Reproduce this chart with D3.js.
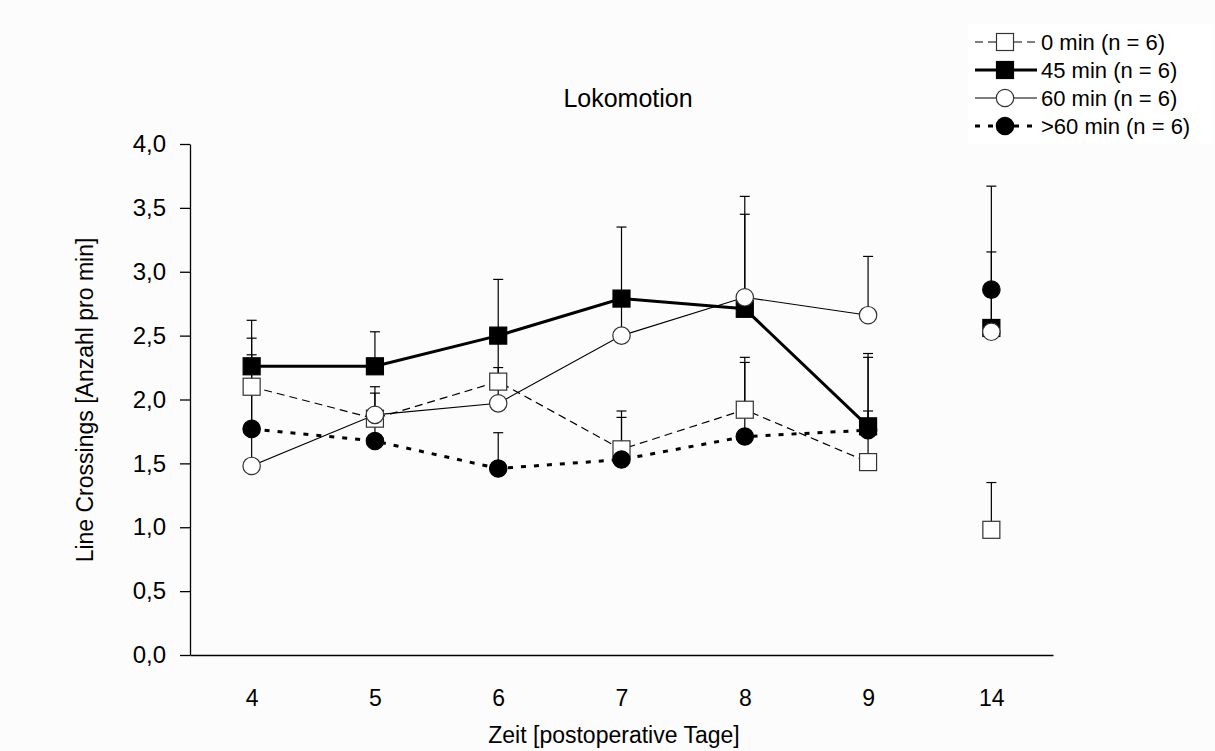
<!DOCTYPE html>
<html>
<head>
<meta charset="utf-8">
<script src="https://cdn.jsdelivr.net/npm/d3@7"></script>
<style>
  body { margin: 0; background: #fcfcfc; }
  svg { display: block; }
  text { font-family: "Liberation Sans", Arial, sans-serif; fill: #000; }
</style>
</head>
<body>
<svg id="chart" width="1215" height="751"></svg>
<script>
// Postoperative days on the x axis; lines only join the consecutive days 4–9
const days = ["4", "5", "6", "7", "8", "9", "14"];
const joinedDays = ["4", "5", "6", "7", "8", "9"];
const yTicks = [0, 0.5, 1, 1.5, 2, 2.5, 3, 3.5, 4];

const seriesNames = ["0 min (n = 6)", "45 min (n = 6)", "60 min (n = 6)", ">60 min (n = 6)"];

// Means and upper error-bar ends (line crossings per minute)
const mean0     = [2.10, 1.85, 2.14, 1.61, 1.92, 1.51, 0.98];
const upper0    = [2.48, 2.05, 2.46, 1.91, 2.33, 1.91, 1.35];
const mean45    = [2.26, 2.26, 2.50, 2.79, 2.71, 1.79, 2.56];
const upper45   = [2.62, 2.53, 2.94, 3.35, 3.45, 2.36, 3.67];
const mean60    = [1.48, 1.88, 1.97, 2.50, 2.80, 2.66, 2.53];
const upper60   = [2.08, 2.10, 2.25, 2.76, 3.59, 3.12, 2.82];
const meanGt60  = [1.77, 1.675, 1.46, 1.53, 1.71, 1.76, 2.86];
const upperGt60 = [2.35, 1.80, 1.74, 1.86, 2.29, 2.33, 3.155];

const means  = [mean0, mean45, mean60, meanGt60];
const uppers = [upper0, upper45, upper60, upperGt60];

// Drawing style for each group
const styles = [
  { shape: "square", fill: "#fff", width: 1.2, dash: "8,5" },
  { shape: "square", fill: "#000", width: 3,   dash: null },
  { shape: "circle", fill: "#fff", width: 1.1, dash: null },
  { shape: "circle", fill: "#000", width: 3,   dash: "5,8" }
];

const svg = d3.select("#chart");

const x = d3.scalePoint().domain(days).range([190, 1053]).padding(0.5);
const y = d3.scaleLinear().domain([0, 4]).range([655, 144]);

const fmt = d3.formatLocale({ decimal: ",", thousands: ".", grouping: [3], currency: ["", "€"] }).format(".1f");

// Y axis
const yAxis = svg.append("g")
  .attr("transform", "translate(190,0)")
  .call(d3.axisLeft(y).tickValues(yTicks).tickFormat(fmt).tickSize(10).tickSizeOuter(0).tickPadding(14));
yAxis.selectAll("text").style("font-size", "24px");
yAxis.selectAll("path,line").attr("stroke", "#000").attr("stroke-width", 1.3);

// X axis (no tick marks)
const xAxis = svg.append("g")
  .attr("transform", "translate(0,655)")
  .call(d3.axisBottom(x).tickSize(0).tickSizeOuter(0).tickPadding(35));
xAxis.selectAll("text").style("font-size", "23px");
xAxis.select(".domain").attr("stroke", "#000").attr("stroke-width", 1.3);

// Titles
svg.append("text").attr("x", 628).attr("y", 107).attr("text-anchor", "middle")
  .style("font-size", "25px").text("Lokomotion");
svg.append("text").attr("x", 614).attr("y", 743).attr("text-anchor", "middle")
  .style("font-size", "23px").text("Zeit [postoperative Tage]");
svg.append("text").attr("transform", "translate(93,400) rotate(-90)").attr("text-anchor", "middle")
  .style("font-size", "23px").text("Line Crossings [Anzahl pro min]");

const rows = seriesNames.map((name, s) => ({
  s,
  pts: days.map((d, i) => ({ day: d, m: means[s][i], u: uppers[s][i] }))
}));

// Connecting lines
const line = d3.line().x(p => x(p.day)).y(p => y(p.m));
svg.append("g").selectAll("path").data(rows).join("path")
  .attr("d", r => line(r.pts.filter(p => joinedDays.includes(p.day))))
  .attr("fill", "none")
  .attr("stroke", "#000")
  .attr("stroke-width", r => styles[r.s].width)
  .attr("stroke-dasharray", r => styles[r.s].dash);

// Upward error bars with caps
const bars = svg.append("g").attr("stroke", "#000").attr("stroke-width", 1.2);
rows.forEach(r => {
  const g = bars.append("g");
  g.selectAll("line.v").data(r.pts).join("line").attr("class", "v")
    .attr("x1", p => x(p.day)).attr("x2", p => x(p.day))
    .attr("y1", p => y(p.m)).attr("y2", p => y(p.u));
  g.selectAll("line.c").data(r.pts).join("line").attr("class", "c")
    .attr("x1", p => x(p.day) - 5).attr("x2", p => x(p.day) + 5)
    .attr("y1", p => y(p.u)).attr("y2", p => y(p.u));
});

// Markers
function drawMarker(sel, st, cx, cy) {
  if (st.shape === "square") {
    sel.append("rect").attr("x", cx - 8.5).attr("y", cy - 8.5).attr("width", 17).attr("height", 17)
      .attr("fill", st.fill).attr("stroke", st.fill === "#000" ? "#000" : "#333").attr("stroke-width", 1.2);
  } else {
    sel.append("circle").attr("cx", cx).attr("cy", cy).attr("r", 8.7)
      .attr("fill", st.fill).attr("stroke", st.fill === "#000" ? "#000" : "#333").attr("stroke-width", 1.2);
  }
}
const marks = svg.append("g");
rows.forEach(r => {
  const g = marks.append("g");
  r.pts.forEach(p => drawMarker(g, styles[r.s], x(p.day), y(p.m)));
});

// Legend
const lg = svg.append("g");
lg.append("rect").attr("x", 968).attr("y", 24).attr("width", 246).attr("height", 120).attr("fill", "#fff");
const rowY = [42, 70, 98, 126];
seriesNames.forEach((name, s) => {
  const st = styles[s];
  const ly = rowY[s];
  lg.append("line").attr("x1", 975).attr("x2", 1037).attr("y1", ly).attr("y2", ly)
    .attr("stroke", "#000").attr("stroke-width", st.width).attr("stroke-dasharray", st.dash);
  drawMarker(lg, st, 1005, ly);
  lg.append("text").attr("x", 1041).attr("y", ly).attr("dy", "0.36em")
    .style("font-size", "22px").text(name);
});
</script>
</body>
</html>
